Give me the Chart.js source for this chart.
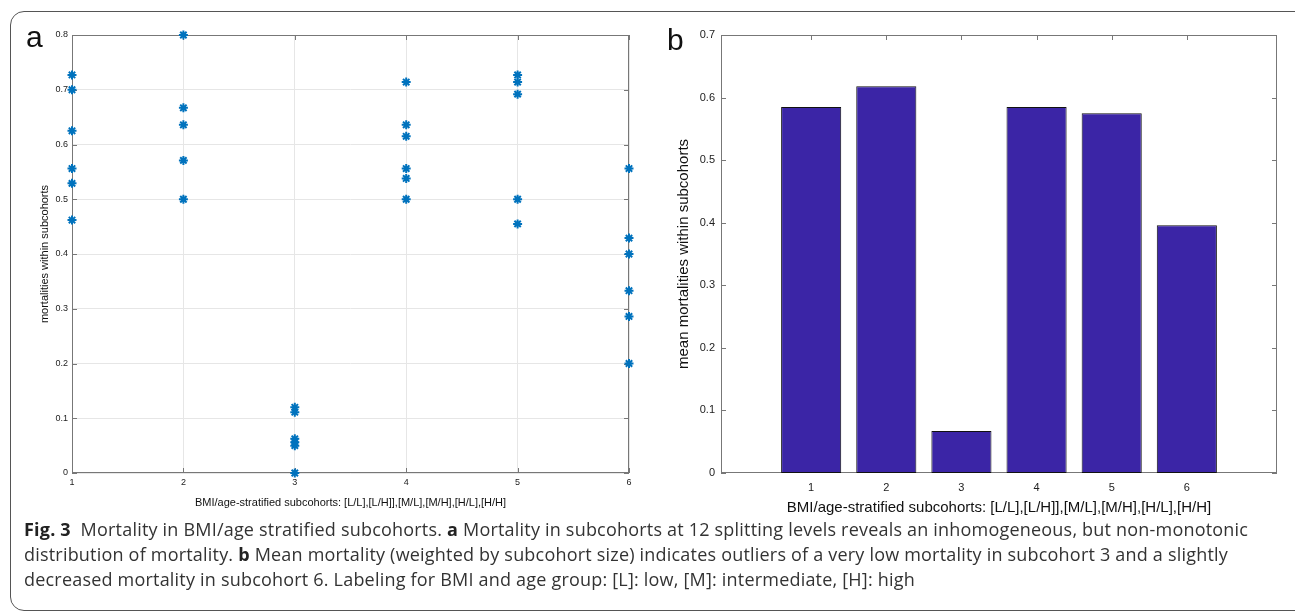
<!DOCTYPE html>
<html>
<head>
<meta charset="utf-8">
<script src="https://cdn.jsdelivr.net/npm/chart.js@4"></script>
<style>
  html, body { margin: 0; padding: 0; background: #fff; }
  body { width: 1295px; height: 613px; position: relative; overflow: hidden; }
  #frame { position: absolute; left: 10px; top: 11px; width: 1310px; height: 600px;
           border: 1.5px solid #555; border-radius: 14px; box-sizing: border-box; }
  .wrap { position: absolute; }
  .panel { position: absolute; font-family: "Liberation Sans", Arial, sans-serif; color: #111; font-size: 30px; line-height: 1; }
  #caption { position: absolute; left: 24px; top: 517px; width: 1265px; letter-spacing: 0.2px;
             font-family: "Open Sans", sans-serif; font-size: 18px; line-height: 25px; color: #333; }
  #caption b { color: #222; }
</style>
</head>
<body>
<div id="frame"></div>
<div class="wrap" style="left:20px;top:20px;width:625px;height:500px"><canvas id="chartA"></canvas></div>
<div class="wrap" style="left:650px;top:20px;width:640px;height:500px"><canvas id="chartB"></canvas></div>
<div class="panel" style="left:26px;top:22px">a</div>
<div class="panel" style="left:667px;top:25px">b</div>
<div id="caption"><b>Fig. 3</b>&nbsp; Mortality in BMI/age stratified subcohorts. <b>a</b> Mortality in subcohorts at 12 splitting levels reveals an inhomogeneous, but non-monotonic distribution of mortality. <b>b</b> Mean mortality (weighted by subcohort size) indicates outliers of a very low mortality in subcohort 3 and a slightly decreased mortality in subcohort 6. Labeling for BMI and age group: [L]: low, [M]: intermediate, [H]: high</div>

<script>
// subcohort indices
const subcohorts = [1, 2, 3, 4, 5, 6];

// panel a: mortality of each subcohort split
const cohort1 = [0.727, 0.700, 0.625, 0.556, 0.529, 0.462];
const cohort2 = [0.800, 0.667, 0.636, 0.571, 0.500];
const cohort3 = [0.120, 0.111, 0.0625, 0.056, 0.050, 0.000];
const cohort4 = [0.714, 0.636, 0.615, 0.556, 0.538, 0.500];
const cohort5 = [0.727, 0.714, 0.692, 0.500, 0.455];
const cohort6 = [0.556, 0.429, 0.400, 0.333, 0.286, 0.200];

// panel b: weighted mean mortality per subcohort
const meanMortality = [0.585, 0.618, 0.067, 0.585, 0.575, 0.396];

const xTitle = 'BMI/age-stratified subcohorts: [L/L],[L/H]],[M/L],[M/H],[H/L],[H/H]';

const groups = [cohort1, cohort2, cohort3, cohort4, cohort5, cohort6];
let scatterPoints = [];
groups.forEach((vals, i) => {
  vals.forEach(v => scatterPoints.push({ x: subcohorts[i], y: v }));
});

// box around plot area + inward ticks, like matlab axes
const boxPlugin = {
  id: 'box',
  beforeDatasetsDraw(chart, args, opts) {
    const { ctx, chartArea: a, scales } = chart;
    ctx.save();
    ctx.strokeStyle = opts.color;
    ctx.lineWidth = 1;
    ctx.strokeRect(a.left + 0.5, a.top + 0.5, a.right - a.left - 1, a.bottom - a.top - 1);
    const len = opts.tick;
    ctx.beginPath();
    scales.x.ticks.forEach(t => {
      const px = Math.round(scales.x.getPixelForValue(t.value)) + 0.5;
      ctx.moveTo(px, a.top); ctx.lineTo(px, a.top + len);
      ctx.moveTo(px, a.bottom); ctx.lineTo(px, a.bottom - len);
    });
    scales.y.ticks.forEach(t => {
      const py = Math.round(scales.y.getPixelForValue(t.value)) + 0.5;
      ctx.moveTo(a.left, py); ctx.lineTo(a.left + len, py);
      ctx.moveTo(a.right, py); ctx.lineTo(a.right - len, py);
    });
    ctx.stroke();
    ctx.restore();
  }
};

const tickFont = { family: '"Liberation Sans", Arial, sans-serif' };

new Chart(document.getElementById('chartA'), {
  type: 'scatter',
  data: {
    datasets: [{
      data: scatterPoints,
      pointStyle: 'star',
      radius: 4.5,
      borderWidth: 2,
      borderColor: '#0072BD',
      backgroundColor: '#0072BD',
      clip: false
    }]
  },
  options: {
    responsive: true,
    maintainAspectRatio: false,
    animation: false,
    layout: { padding: { top: 15, right: 16, left: 0, bottom: 0 } },
    plugins: { legend: { display: false }, tooltip: { enabled: false }, box: { color: '#777', tick: 5 } },
    scales: {
      x: {
        type: 'linear', min: 1, max: 6,
        afterBuildTicks: s => { s.ticks = subcohorts.map(v => ({ value: v })); },
        afterFit: s => { s.height = 47; },
        grid: { color: '#e6e6e6', drawTicks: false },
        border: { display: false },
        ticks: { padding: 4, color: '#222', font: { ...tickFont, size: 9 } },
        title: { display: true, text: xTitle, color: '#111', padding: { top: 0, bottom: 10 },
                 font: { ...tickFont, size: 11 } }
      },
      y: {
        min: 0, max: 0.8,
        ticks: { stepSize: 0.1, padding: 4, color: '#222', font: { ...tickFont, size: 9 },
                 callback: v => +v.toFixed(1) },
        afterFit: s => { s.width = 52; },
        grid: { color: '#e6e6e6', drawTicks: false },
        border: { display: false },
        title: { display: true, text: 'mortalities within subcohorts', color: '#111', padding: { top: 18, bottom: 0 },
                 font: { ...tickFont, size: 11 } }
      }
    }
  },
  plugins: [boxPlugin]
});

new Chart(document.getElementById('chartB'), {
  type: 'bar',
  data: {
    datasets: [{
      data: subcohorts.map((c, i) => ({ x: c, y: meanMortality[i] })),
      backgroundColor: '#3B25A6',
      borderColor: '#111',
      borderWidth: 1,
      borderSkipped: false,
      barPercentage: 1,
      categoryPercentage: 0.8
    }]
  },
  options: {
    responsive: true,
    maintainAspectRatio: false,
    animation: false,
    layout: { padding: { top: 15, right: 13, left: 0, bottom: 0 } },
    plugins: { legend: { display: false }, tooltip: { enabled: false }, box: { color: '#777', tick: 5 } },
    scales: {
      x: {
        type: 'linear', min: -0.2, max: 7.2, offset: false,
        afterBuildTicks: s => { s.ticks = subcohorts.map(v => ({ value: v })); },
        afterFit: s => { s.height = 47; },
        grid: { display: false, drawTicks: false },
        border: { display: false },
        ticks: { padding: 8, color: '#222', font: { ...tickFont, size: 11 } },
        title: { display: true, text: xTitle, color: '#111', padding: { top: 0, bottom: 3 },
                 font: { ...tickFont, size: 15 } }
      },
      y: {
        min: 0, max: 0.7,
        ticks: { stepSize: 0.1, padding: 6, color: '#222', font: { ...tickFont, size: 11 },
                 callback: v => +v.toFixed(1) },
        afterFit: s => { s.width = 71; },
        grid: { display: false, drawTicks: false },
        border: { display: false },
        title: { display: true, text: 'mean mortalities within subcohorts', color: '#111', padding: { top: 25, bottom: 0 },
                 font: { ...tickFont, size: 15 } }
      }
    }
  },
  plugins: [boxPlugin]
});
</script>
</body>
</html>
